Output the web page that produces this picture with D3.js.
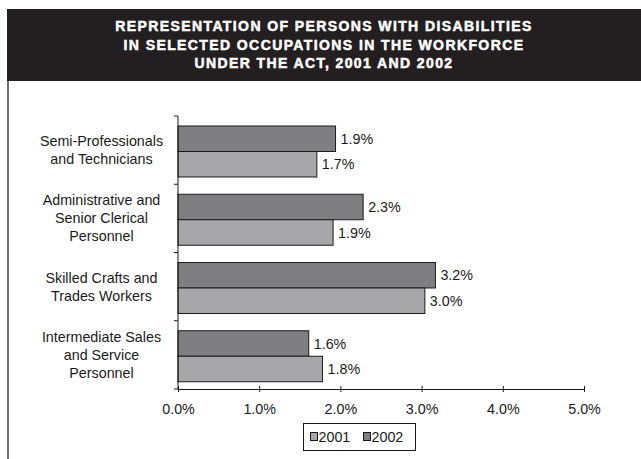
<!DOCTYPE html>
<html><head><meta charset="utf-8">
<script src="https://cdn.jsdelivr.net/npm/d3@7"></script>
<style>html,body{margin:0;padding:0;background:#fff;}svg{display:block;}</style>
</head><body>
<script>
const titleLines = ["REPRESENTATION OF PERSONS WITH DISABILITIES", "IN SELECTED OCCUPATIONS IN THE WORKFORCE", "UNDER THE ACT, 2001 AND 2002"];
const categories = [
  ["Semi-Professionals", "and Technicians"],
  ["Administrative and", "Senior Clerical", "Personnel"],
  ["Skilled Crafts and", "Trades Workers"],
  ["Intermediate Sales", "and Service", "Personnel"]
];
const catKeys = ["semi", "admin", "skilled", "inter"];
const values2002 = [1.94, 2.28, 3.17, 1.61];
const values2001 = [1.71, 1.91, 3.04, 1.78];
const seriesNames = ["2002", "2001"];
const legendOrder = ["2001", "2002"];
const xTicks = [0, 1, 2, 3, 4, 5];
const colors = {"2002": "#7f7f81", "2001": "#a7a7a9"};

const W = 641, H = 459;
const svg = d3.select("body").append("svg").attr("width", W).attr("height", H);
const font = "Liberation Sans, Arial, Helvetica, sans-serif";
const fs = 14.3;

// Title box
svg.append("rect").attr("x", 7).attr("y", 9).attr("width", W - 7).attr("height", 72).attr("fill", "#231f20");
svg.append("g").selectAll("text").data(titleLines).join("text")
  .attr("x", 324).attr("y", (d, i) => 31 + i * 18.5)
  .attr("text-anchor", "middle").attr("fill", "#fff")
  .attr("stroke", "#fff").attr("stroke-width", 0.5)
  .attr("font-family", font).attr("font-weight", "bold").attr("font-size", 14)
  .attr("letter-spacing", 1.4)
  .text(d => d);

// Left frame line
svg.append("line").attr("x1", 8).attr("x2", 8).attr("y1", 81).attr("y2", H).attr("stroke", "#231f20").attr("stroke-width", 1.3);

const x = d3.scaleLinear().domain([0, 5]).range([178, 584]);
const y = d3.scaleBand().domain(catKeys).range([116, 389]);
const inner = d3.scaleBand().domain(seriesNames).range([10, 61]);

const rows = catKeys.map((k, i) => ({key: k, lab: categories[i], "2002": values2002[i], "2001": values2001[i]}));

// bars
const g = svg.append("g");
rows.forEach(r => {
  seriesNames.forEach(s => {
    const yy = y(r.key) + inner(s);
    g.append("rect").attr("x", x(0)).attr("y", yy)
      .attr("width", x(r[s]) - x(0)).attr("height", inner.bandwidth())
      .attr("fill", colors[s]).attr("stroke", "#1a1a1a").attr("stroke-width", 1);
    g.append("text").attr("x", x(r[s]) + 5).attr("y", yy + inner.bandwidth() / 2 + 5)
      .attr("font-family", font).attr("font-size", fs).attr("fill", "#1a1a1a")
      .text(d3.format(".1f")(r[s]) + "%");
  });
});

// y axis
const yAxis = svg.append("g").attr("transform", `translate(${x(0)},0)`);
yAxis.append("line").attr("x1", 0).attr("x2", 0).attr("y1", 116).attr("y2", 389).attr("stroke", "#1a1a1a");
const yTickPos = catKeys.map(k => y(k)).concat([389]);
yAxis.selectAll("line.t").data(yTickPos).join("line").attr("class", "t")
  .attr("x1", -4).attr("x2", 0).attr("y1", d => d).attr("y2", d => d).attr("stroke", "#1a1a1a");

// category labels
rows.forEach(r => {
  const cy = y(r.key) + y.bandwidth() / 2;
  const n = r.lab.length;
  svg.append("g").selectAll("text").data(r.lab).join("text")
    .attr("x", 101.5).attr("y", (d, i) => cy + (i - (n - 1) / 2) * 18 + 5)
    .attr("text-anchor", "middle").attr("font-family", font).attr("font-size", fs).attr("fill", "#1a1a1a")
    .text(d => d);
});

// x axis
const xAxis = svg.append("g").attr("transform", "translate(0,389)")
  .call(d3.axisBottom(x).tickValues(xTicks).tickSize(4).tickSizeOuter(0).tickFormat(d => d3.format(".1f")(d) + "%"));
xAxis.select(".domain").attr("stroke", "#1a1a1a");
xAxis.selectAll(".tick line").attr("stroke", "#1a1a1a").attr("y1", -3).attr("y2", 3);
xAxis.selectAll(".tick text").attr("font-family", font).attr("font-size", fs).attr("fill", "#1a1a1a").attr("dy", 0).attr("y", 25);

// legend
const lg = svg.append("g");
lg.append("rect").attr("x", 303.5).attr("y", 423.5).attr("width", 112).attr("height", 27)
  .attr("fill", "#fff").attr("stroke", "#1a1a1a").attr("stroke-width", 1);
legendOrder.forEach((s, i) => {
  const lx = 310.5 + i * 53;
  lg.append("rect").attr("x", lx).attr("y", 432.5).attr("width", 7).attr("height", 8)
    .attr("fill", colors[s]).attr("stroke", "#1a1a1a").attr("stroke-width", 1);
  lg.append("text").attr("x", lx + 8).attr("y", 442).attr("font-family", font).attr("font-size", fs).attr("fill", "#1a1a1a").text(s);
});
</script>
</body></html>
